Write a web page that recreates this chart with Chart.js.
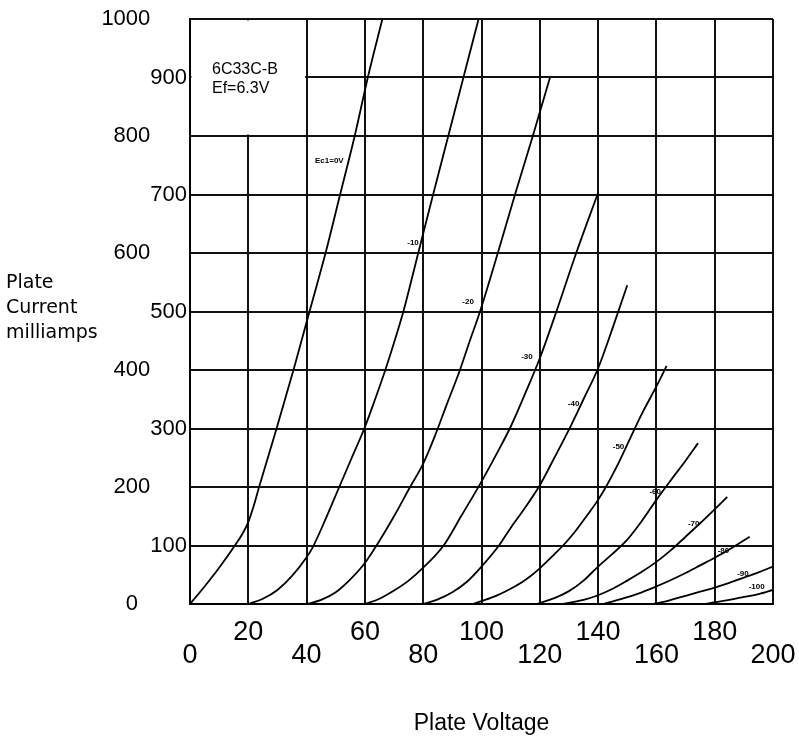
<!DOCTYPE html>
<html>
<head>
<meta charset="utf-8">
<script src="https://cdn.jsdelivr.net/npm/chart.js@4.4.0/dist/chart.umd.min.js"></script>
<style>
    html, body { margin: 0; padding: 0; background: #fff; }
</style>
</head>
<body>
<canvas id="plateChart" width="799" height="740"></canvas>
<script>
// Plate curves, one list of [plate volts, plate mA] per grid voltage
const ec1_0   = [[0,0],[5,30],[10,62],[15.4,100],[18,120],[20,140],[22,170],[23.7,200],[29.7,300],[35.5,400],[41,500],[46.5,600],[51.5,700],[56.5,800],[61,900],[66,1000]];
const ec1_10  = [[20,0],[25,9],[30,24],[35,48],[40,80],[42,96],[46.5,145],[51.2,200],[55.5,250],[59.8,300],[63.5,350],[67,400],[70.2,450],[73.2,500],[78.3,600],[83.4,700],[88.6,800],[93.8,900],[99,1000]];
const ec1_20  = [[40,0],[45,7],[50,20],[55,42],[60,70],[64,100],[70,150],[75.5,200],[80,240],[84,287],[88,340],[92.6,400],[96,450],[99.5,500],[105.6,600],[111.5,700],[117.6,800],[123.5,900]];
const ec1_30  = [[60,0],[65,9],[70,23],[75,40],[80,62],[87,100],[93,150],[99.5,205],[105,255],[110,303],[115,360],[120,420],[125,490],[132.5,600],[140,703]];
const ec1_40  = [[80,0],[85,8],[90,20],[95,38],[100,64],[106,100],[110,130],[115,165],[120,203],[125,250],[130,298],[135,350],[140,403],[145,472],[150,545]];
const ec1_50  = [[97,0],[100,5],[105,14],[110,26],[115,41],[120,61],[125,85],[128,100],[132,123],[136,150],[140,178],[143,203],[147.5,246],[151,283],[155,325],[160,372],[163.5,407]];
const ec1_60  = [[119,0],[125,10],[130,22],[135,40],[140,64],[145,86],[150,110],[155,142],[160,178],[165,212],[170,245],[174.3,275]];
const ec1_70  = [[128,0],[135,7],[140,15],[145,26],[150,40],[155,55],[160,72],[165,92],[170,115],[175,138],[180,162],[184.3,183]];
const ec1_80  = [[141.7,0],[147.5,8],[155,20],[160,30],[165,41],[170,53],[175,66],[180,79],[185,93],[192,115]];
const ec1_90  = [[159,0],[162,3],[165,7],[170,14],[175,21],[180,28],[185,36],[190,45],[195,54],[200,64]];
const ec1_100 = [[177,0],[180,3],[185,7],[190,12],[195,17],[200,24]];

const curves = [ec1_0, ec1_10, ec1_20, ec1_30, ec1_40, ec1_50, ec1_60, ec1_70, ec1_80, ec1_90, ec1_100];
const gridVolts = [0, -10, -20, -30, -40, -50, -60, -70, -80, -90, -100];

// small labels written beside each curve: [text, volts, mA]
const curveLabels = [
    ["Ec1=0V", 47.8, 757], ["-10", 76.5, 617], ["-20", 95.4, 517], ["-30", 115.6, 423],
    ["-40", 131.6, 343], ["-50", 147, 269], ["-60", 159.6, 191], ["-70", 172.8, 137],
    ["-80", 183, 91], ["-90", 189.7, 52], ["-100", 194.4, 30]
];

const tubeName = "6C33C-B";
const heaterText = "Ef=6.3V";
const yTitleLines = ["Plate", "Current", "milliamps"];

// blank the note box in the top left corner and write the labels
const notesPlugin = {
    id: "notes",
    beforeDatasetsDraw(chart) {
        const { ctx, scales: { x, y } } = chart;
        const l = x.getPixelForValue(0), r = x.getPixelForValue(40);
        const t = y.getPixelForValue(1000), b = y.getPixelForValue(800);
        ctx.save();
        ctx.fillStyle = "#fff";
        ctx.fillRect(l + 1.5, t + 1.5, r - l - 3, b - t - 3);
        ctx.fillStyle = "#000";
        ctx.font = '16px "Liberation Sans"';
        ctx.textBaseline = "middle";
        ctx.fillText(tubeName, l + 22, t + 51);
        ctx.fillText(heaterText, l + 22, t + 70);
        ctx.restore();
    },
    afterDatasetsDraw(chart) {
        const { ctx, scales: { x, y } } = chart;
        ctx.save();
        ctx.fillStyle = "#000";
        ctx.font = 'bold 8px "Liberation Sans"';
        ctx.textAlign = "center";
        ctx.textBaseline = "middle";
        curveLabels.forEach(([txt, v, ma]) => {
            ctx.fillText(txt, x.getPixelForValue(v), y.getPixelForValue(ma));
        });
        ctx.restore();
    },
    afterDraw(chart) {
        const ctx = chart.ctx;
        ctx.save();
        ctx.fillStyle = "#000";
        ctx.font = '19px "DejaVu Sans"';
        ctx.textBaseline = "middle";
        yTitleLines.forEach((line, i) => ctx.fillText(line, 6, 283 + i * 25));
        ctx.restore();
    }
};

const ctx = document.getElementById("plateChart").getContext("2d");

new Chart(ctx, {
    type: "line",
    data: {
        datasets: curves.map((pts, i) => ({
            label: "Ec1=" + gridVolts[i] + "V",
            data: pts.map(p => ({ x: p[0], y: p[1] })),
            borderColor: "#000",
            borderWidth: 1.8,
            pointRadius: 0,
            fill: false,
            cubicInterpolationMode: "monotone"
        }))
    },
    options: {
        responsive: false,
        animation: false,
        devicePixelRatio: 1,
        layout: { padding: { top: 19, right: 26, left: 0, bottom: 0 } },
        plugins: {
            legend: { display: false },
            tooltip: { enabled: false }
        },
        scales: {
            x: {
                type: "linear",
                min: 0,
                max: 200,
                afterFit(scale) {
                    scale.height = 136;
                    // labels may hang past the plot edges, the layout padding covers it
                    scale.paddingLeft = 0;
                    scale.paddingRight = 0;
                },
                grid: { color: "#111", lineWidth: 2, drawTicks: false },
                border: { color: "#000", width: 2 },
                ticks: {
                    stepSize: 20,
                    autoSkip: false,
                    maxRotation: 0,
                    padding: 17,
                    color: "#000",
                    font: { family: "Liberation Sans", size: 27, lineHeight: 0.85 },
                    // alternate rows: 20, 60, 100... on top, 0, 40, 80... below
                    callback: v => (v / 20) % 2 ? [String(v), ""] : ["", String(v)]
                },
                title: {
                    display: true,
                    text: "Plate Voltage",
                    color: "#000",
                    font: { family: "Liberation Sans", size: 23 },
                    padding: { top: 0, bottom: 3 }
                }
            },
            y: {
                min: 0,
                max: 1000,
                afterFit(scale) { scale.width = 190; },
                grid: { color: "#111", lineWidth: 2, drawTicks: false },
                border: { color: "#000", width: 2 },
                ticks: {
                    stepSize: 100,
                    padding: 3,
                    color: "#000",
                    font: { family: "Liberation Sans", size: 22 },
                    // odd hundreds sit next to the axis, even ones further left
                    callback: v => v === 0 ? "0        " : (v / 100) % 2 ? String(v) : v + "      "
                }
            }
        }
    },
    plugins: [notesPlugin]
});
</script>
</body>
</html>
